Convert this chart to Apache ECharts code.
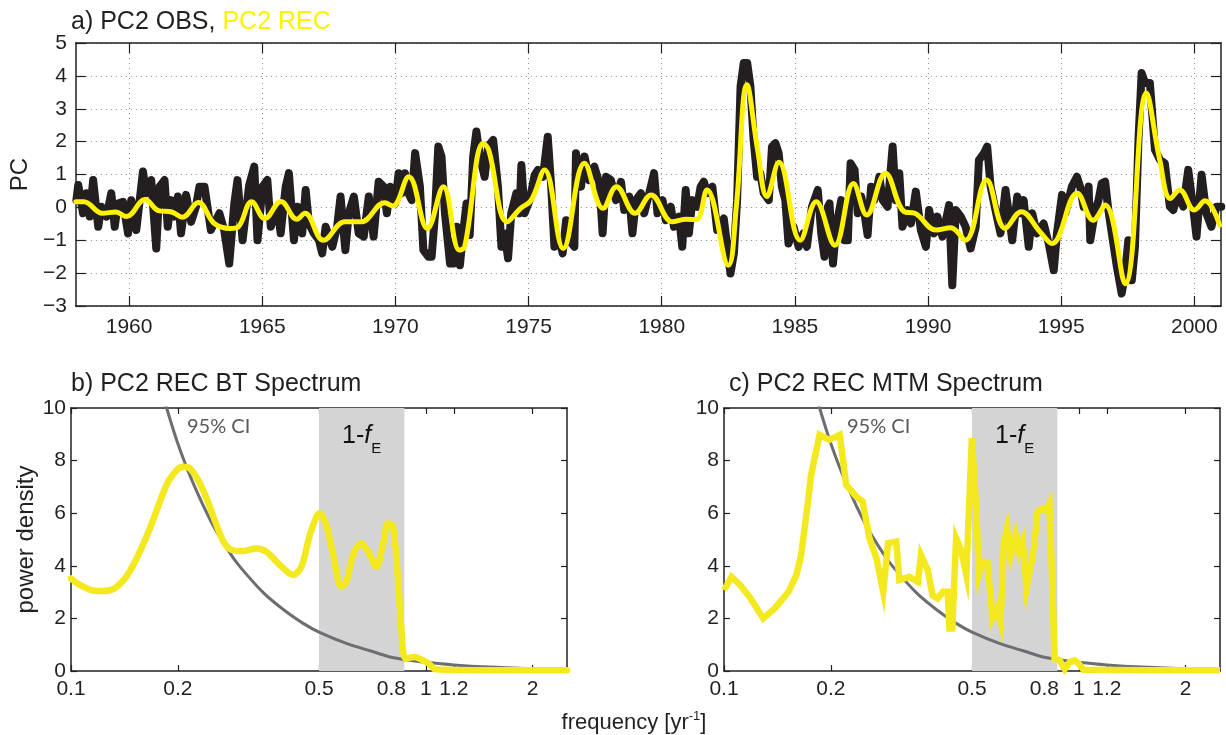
<!DOCTYPE html>
<html>
<head>
<meta charset="utf-8">
<script src="https://cdn.jsdelivr.net/npm/echarts@6/dist/echarts.min.js"></script>
<style>
html,body{margin:0;padding:0;background:#ffffff;}
#chart{width:1226px;height:735px;}
</style>
</head>
<body>
<div id="chart"></div>
<script>
// ---------------- DATA ----------------
const obsYears = [1958.02,1958.09,1958.27,1958.40,1958.52,1958.65,1958.84,1958.96,1959.15,1959.33,1959.46,1959.58,1959.77,1959.96,1960.08,1960.27,1960.52,1960.64,1960.83,1961.02,1961.14,1961.33,1961.45,1961.58,1961.70,1961.83,1961.95,1962.14,1962.33,1962.51,1962.64,1962.83,1963.07,1963.39,1963.57,1963.76,1963.95,1964.07,1964.26,1964.51,1964.70,1964.82,1965.01,1965.19,1965.32,1965.57,1965.69,1965.88,1966.00,1966.19,1966.32,1966.50,1966.63,1966.75,1966.94,1967.13,1967.25,1967.38,1967.63,1967.81,1967.94,1968.12,1968.25,1968.44,1968.62,1968.81,1969.00,1969.18,1969.37,1969.56,1969.68,1969.81,1969.99,1970.12,1970.24,1970.36,1970.49,1970.61,1970.74,1970.92,1971.05,1971.24,1971.36,1971.48,1971.61,1971.73,1971.86,1972.05,1972.17,1972.30,1972.42,1972.54,1972.67,1972.79,1972.92,1973.04,1973.17,1973.35,1973.48,1973.67,1973.85,1973.98,1974.10,1974.23,1974.35,1974.54,1974.66,1974.73,1974.85,1975.04,1975.23,1975.35,1975.54,1975.72,1975.85,1975.97,1976.16,1976.28,1976.41,1976.53,1976.72,1976.78,1976.97,1977.10,1977.28,1977.47,1977.66,1977.78,1977.91,1978.09,1978.28,1978.47,1978.59,1978.78,1978.90,1979.03,1979.22,1979.34,1979.53,1979.71,1979.84,1980.03,1980.15,1980.34,1980.46,1980.65,1980.77,1980.90,1981.02,1981.15,1981.33,1981.46,1981.58,1981.71,1981.90,1982.08,1982.33,1982.46,1982.58,1982.71,1982.83,1982.96,1983.08,1983.21,1983.33,1983.45,1983.58,1983.70,1983.83,1984.02,1984.14,1984.27,1984.39,1984.51,1984.64,1984.76,1984.95,1985.14,1985.32,1985.45,1985.64,1985.86,1985.99,1986.11,1986.24,1986.30,1986.43,1986.55,1986.74,1986.86,1986.99,1987.09,1987.24,1987.36,1987.49,1987.61,1987.73,1987.86,1987.98,1988.17,1988.30,1988.48,1988.67,1988.79,1988.92,1989.04,1989.23,1989.36,1989.54,1989.73,1989.92,1990.04,1990.23,1990.35,1990.54,1990.79,1990.91,1991.04,1991.23,1991.41,1991.60,1991.79,1991.91,1992.10,1992.22,1992.35,1992.53,1992.72,1992.91,1993.03,1993.16,1993.35,1993.47,1993.59,1993.78,1993.91,1994.09,1994.34,1994.53,1994.72,1994.84,1995.03,1995.15,1995.40,1995.59,1995.71,1995.84,1996.03,1996.09,1996.28,1996.40,1996.52,1996.65,1996.77,1996.90,1997.09,1997.27,1997.40,1997.52,1997.65,1997.77,1997.90,1998.02,1998.15,1998.33,1998.52,1998.71,1998.89,1999.08,1999.21,1999.39,1999.58,1999.77,1999.95,2000.08,2000.27,2000.45,2000.64,2000.83,2001.01];
const obsValues = [0.22,0.68,-0.18,0.43,-0.28,0.83,-0.59,0.02,-0.28,0.43,-0.59,0.12,0.17,-0.79,0.22,-0.69,1.09,0.43,0.83,-1.25,0.63,0.83,-0.59,0.22,-0.28,0.33,-0.79,0.38,-0.44,0.02,0.63,0.63,-0.69,-0.18,-0.69,-1.71,0.12,0.83,-1.00,0.68,1.24,-1.00,0.63,0.83,-0.59,0.02,-0.79,0.63,1.04,-1.00,0.02,-0.79,0.53,-0.49,-0.79,-1.00,-1.40,-0.59,-1.20,-0.59,0.33,-1.30,-0.18,0.33,-0.79,-0.89,0.33,-0.89,0.78,0.63,-0.18,0.63,0.12,1.04,0.43,1.04,0.43,0.22,1.65,0.63,-1.30,-1.50,-1.50,-0.28,1.85,1.55,-0.18,-1.71,-1.71,-0.59,-1.76,-0.79,0.12,-0.84,1.55,2.31,1.55,0.93,1.85,2.05,0.63,-1.20,-0.79,-1.55,-0.18,0.43,-0.18,1.29,-0.18,0.22,0.99,1.14,0.93,2.15,0.63,-1.20,-1.00,-1.40,-0.39,-1.00,-1.20,1.65,0.63,1.55,0.83,1.24,0.73,-0.79,0.93,0.83,0.22,0.78,-0.08,0.33,-0.79,0.22,0.43,-0.18,0.43,1.04,-0.18,0.22,-0.39,0.02,-0.59,-0.28,-1.20,0.53,-0.79,0.22,0.02,0.63,0.78,0.43,0.63,-0.69,-0.34,-1.20,-2.01,-1.40,0.22,3.68,4.39,4.39,3.68,2.05,0.93,1.04,0.43,0.22,1.85,1.95,1.65,0.63,0.22,-1.10,-0.59,-1.20,-0.79,-1.20,0.02,0.53,-0.79,-1.50,0.02,0.12,-1.71,-0.59,0.22,-1.00,-1.00,1.34,1.14,-0.18,0.33,-0.18,-0.84,0.63,0.22,0.93,0.22,0.02,1.85,0.22,1.04,-0.59,-0.08,-0.49,0.48,-0.69,-1.20,-0.08,-0.79,-0.28,-0.89,0.07,-2.37,-0.08,-0.28,-0.59,-1.25,-0.59,1.44,1.65,1.85,0.63,-0.08,-0.79,0.53,-0.18,-1.00,0.33,-0.18,0.22,-1.20,-0.18,-0.79,-0.49,-1.10,-1.91,-0.79,0.38,-0.18,0.63,0.93,0.63,0.02,0.63,-1.00,-0.08,0.22,0.73,0.78,-0.08,-0.79,-1.81,-2.62,-2.01,-1.00,-2.22,-1.20,2.05,4.09,3.78,3.78,1.75,1.44,1.34,0.02,-0.08,0.43,0.02,1.14,0.02,-0.89,0.99,-0.18,-0.59,0.02,0.02];

const recYears = [1958.0,1958.3,1959.0,1959.5,1959.9,1960.6,1961.1,1961.6,1962.0,1962.6,1963.2,1963.8,1964.1,1964.6,1965.1,1965.7,1966.3,1966.6,1967.3,1968.1,1968.7,1969.6,1969.9,1970.5,1971.2,1971.8,1972.4,1972.6,1973.3,1973.5,1974.2,1974.7,1975.1,1975.6,1976.3,1977.1,1977.8,1978.3,1979.0,1979.6,1980.4,1980.9,1981.3,1981.7,1982.5,1982.8,1983.2,1983.6,1983.95,1984.4,1985.2,1985.8,1986.5,1987.2,1987.7,1988.4,1989.1,1989.5,1990.3,1990.85,1991.4,1992.2,1992.9,1993.5,1994.2,1994.65,1995.6,1996.2,1996.65,1997.4,1998.2,1998.7,1999.1,1999.45,2000.0,2000.4,2000.95];
const recValues = [0.17,0.17,-0.18,-0.14,-0.28,0.24,-0.10,-0.14,-0.30,0.15,-0.49,-0.64,-0.59,0.17,-0.34,0.18,-0.36,-0.18,-1.00,-0.44,-0.44,0.14,0.04,0.93,-0.64,0.63,-1.30,-1.20,1.95,1.75,-0.44,-0.03,0.22,1.14,-1.25,1.34,-0.03,0.63,-0.18,0.38,-0.44,-0.36,-0.37,0.53,-1.76,0.02,3.73,1.75,0.33,1.37,-1.00,0.17,-1.15,0.73,-0.23,1.04,-0.13,-0.18,-0.69,-0.62,-1.00,0.83,-0.64,-0.13,-0.74,-1.10,0.43,-0.39,0.07,-2.32,3.48,1.44,0.27,0.53,-0.08,0.20,-0.54];

const btFreq  = [0.100,0.106,0.118,0.129,0.142,0.153,0.167,0.186,0.199,0.207,0.216,0.228,0.241,0.255,0.269,0.284,0.306,0.333,0.355,0.388,0.423,0.446,0.471,0.492,0.502,0.524,0.548,0.578,0.597,0.624,0.658,0.688,0.726,0.757,0.782,0.808,0.836,0.853,0.877,0.930,0.980,1.020,1.060,1.200,1.600,2.000,2.500];
const btPower = [3.52,3.27,3.04,3.07,3.52,4.28,5.43,7.08,7.65,7.77,7.71,7.27,6.57,5.68,4.92,4.60,4.56,4.66,4.54,4.03,3.65,3.96,5.17,5.87,6.00,5.55,4.41,3.20,3.39,4.41,4.86,4.54,3.96,4.79,5.62,5.49,3.39,1.62,0.47,0.53,0.41,0.28,0.07,0.04,0.03,0.03,0.03];

const mtmFreq  = [0.100,0.105,0.111,0.118,0.129,0.139,0.152,0.160,0.165,0.172,0.176,0.186,0.198,0.212,0.221,0.236,0.246,0.257,0.269,0.281,0.290,0.306,0.312,0.333,0.352,0.359,0.375,0.387,0.400,0.414,0.427,0.432,0.440,0.451,0.466,0.482,0.4995,0.514,0.523,0.536,0.553,0.571,0.589,0.602,0.615,0.628,0.643,0.664,0.679,0.695,0.712,0.733,0.749,0.765,0.790,0.808,0.826,0.845,0.854,0.883,0.913,0.943,0.974,1.000,1.030,1.500,2.500];
const mtmPower = [3.08,3.58,3.27,2.82,2.00,2.38,3.01,3.65,4.41,6.31,7.46,8.98,8.79,8.98,7.08,6.63,6.44,5.05,4.28,3.01,4.86,4.92,3.46,3.58,3.39,4.41,3.84,2.88,2.76,3.01,3.01,1.62,1.62,5.05,4.60,3.65,8.85,6.18,3.65,4.16,4.10,2.00,2.38,1.88,4.92,5.43,4.41,5.18,4.54,4.92,3.14,4.03,4.79,6.06,6.18,6.10,6.36,2.76,0.47,0.41,0.07,0.34,0.40,0.28,0.05,0.03,0.03];

const ciFreq  = [0.180,0.186,0.200,0.220,0.250,0.280,0.300,0.350,0.400,0.450,0.500,0.600,0.700,0.800,0.900,1.000,1.200,1.500,2.000,2.500];
const ciPower = [10.7,10.0,8.65,7.2,5.6,4.5,3.95,2.95,2.3,1.82,1.48,1.04,0.76,0.52,0.41,0.33,0.23,0.15,0.09,0.06];

const yearTicks = [1960,1965,1970,1975,1980,1985,1990,1995,2000];
const freqTicks = [0.1,0.2,0.5,0.8,1,1.2,2];
const freqRange = [0.1, 2.5];
const bandRange = [0.5, 0.87];

// ---------------- STYLE ----------------
const FONT = 'Liberation Sans, Arial, Helvetica, sans-serif';
const INK = '#231f20';
const Y_TOP = '#fff200';
const Y_SPEC = '#f4e81e';
const log = Math.log10;

const minus = v => (v < 0 ? '\u2212' + Math.abs(v) : String(v));
const plain = v => String(v);
const freqFmt = v => String(parseFloat(Math.pow(10, v).toPrecision(2)));

function xAx(gi, pos, main, extra) {
  return Object.assign({
    type: 'value', gridIndex: gi, position: pos,
    axisLine: {show: true, onZero: false, lineStyle: {color: INK, width: 1.5}},
    axisTick: {show: true, inside: true, length: gi === 0 ? 10 : 6, lineStyle: {color: INK, width: 1.2}},
    axisLabel: {show: main, color: INK, fontFamily: FONT, fontSize: 21, margin: 9},
    splitLine: {show: false}
  }, extra);
}
function yAx(gi, pos, main, extra) {
  return Object.assign({
    type: 'value', gridIndex: gi, position: pos,
    axisLine: {show: true, onZero: false, lineStyle: {color: INK, width: 1.5}},
    axisTick: {show: true, inside: true, length: gi === 0 ? 10 : 6, lineStyle: {color: INK, width: 1.2}},
    axisLabel: {show: main, color: INK, fontFamily: FONT, fontSize: 21, margin: gi === 0 ? 9 : 5},
    splitLine: {show: false}
  }, extra);
}

const dotted = {show: true, lineStyle: {color: '#8a8a8a', width: 1, type: [1, 4]}};
const yearAxisExtra = (lbl) => ({
  min: 1958, max: 2001,
  axisLabel: {show: lbl, color: INK, fontFamily: FONT, fontSize: 21, margin: 11, customValues: yearTicks, formatter: plain},
  axisTick: {show: true, inside: true, length: 10, customValues: yearTicks, lineStyle: {color: INK, width: 1.2}},
  splitLine: lbl ? dotted : {show: false}
});
const freqAxisExtra = (lbl) => ({
  min: log(freqRange[0]), max: log(freqRange[1]),
  axisLabel: {show: lbl, color: INK, fontFamily: FONT, fontSize: 21, margin: 8,
              customValues: freqTicks.map(log), formatter: freqFmt},
  axisTick: {show: true, inside: true, length: 6, customValues: freqTicks.map(log), lineStyle: {color: INK, width: 1.2}}
});
const pcAxisExtra = (lbl) => ({
  min: -3, max: 5, interval: 1,
  axisLabel: {show: lbl, color: INK, fontFamily: FONT, fontSize: 21, margin: 9, formatter: minus},
  splitLine: lbl ? dotted : {show: false}
});
const powAxisExtra = {min: 0, max: 10, interval: 2};

const pairs = (xs, ys, fx) => xs.map((x, i) => [fx ? fx(x) : x, ys[i]]);

const bandArea = {
  silent: true,
  itemStyle: {color: '#d4d4d4', opacity: 1},
  label: {
    show: true, position: 'insideTop', distance: 8,
    formatter: '{a|1-}{i|f}{s|E}',
    rich: {
      a: {fontFamily: FONT, fontSize: 25, color: '#111', lineHeight: 40},
      i: {fontFamily: FONT, fontSize: 25, fontStyle: 'italic', color: '#111', lineHeight: 40},
      s: {fontFamily: FONT, fontSize: 15, color: '#111', lineHeight: 16, verticalAlign: 'bottom'}
    }
  },
  data: [[{xAxis: log(bandRange[0])}, {xAxis: log(bandRange[1])}]]
};

const option = {
  backgroundColor: '#ffffff',
  animation: false,
  title: [
    {text: '{k|a) PC2 OBS, }{y|PC2 REC}', left: 71, top: 10, padding: 0,
     textStyle: {fontWeight: 'normal', rich: {
       k: {fontFamily: FONT, fontSize: 25, fontWeight: 'normal', color: INK},
       y: {fontFamily: FONT, fontSize: 25, fontWeight: 'normal', color: Y_TOP}}}},
    {text: 'b) PC2 REC BT Spectrum', left: 71, top: 372, padding: 0,
     textStyle: {fontFamily: FONT, fontSize: 25, fontWeight: 'normal', color: INK}},
    {text: 'c) PC2 REC MTM Spectrum', left: 729, top: 372, padding: 0,
     textStyle: {fontFamily: FONT, fontSize: 25, fontWeight: 'normal', color: INK}}
  ],
  graphic: [
    {type: 'text', x: 634, y: 723, style: {text: '{a|frequency [yr}{s|-1}{a|]}', align: 'center', verticalAlign: 'middle',
      rich: {a: {fontFamily: FONT, fontSize: 22, fill: INK, lineHeight: 26}, s: {fontFamily: FONT, fontSize: 13, fill: INK, verticalAlign: 'top', lineHeight: 14}}}},
    {type: 'text', x: 187, y: 427, style: {text: '95% CI', fontFamily: 'Lato, sans-serif', fontSize: 20, fill: '#58595b', verticalAlign: 'middle'}},
    {type: 'text', x: 847, y: 427, style: {text: '95% CI', fontFamily: 'Lato, sans-serif', fontSize: 20, fill: '#58595b', verticalAlign: 'middle'}}
  ],
  grid: [
    {left: 71, top: 43, width: 1150, height: 263, containLabel: false},
    {left: 71, top: 408, width: 496, height: 263, containLabel: false},
    {left: 724, top: 408, width: 496, height: 263, containLabel: false}
  ],
  xAxis: [
    xAx(0, 'bottom', true, yearAxisExtra(true)),
    xAx(0, 'top', false, yearAxisExtra(false)),
    xAx(1, 'bottom', true, freqAxisExtra(true)),
    xAx(1, 'top', false, freqAxisExtra(false)),
    xAx(2, 'bottom', true, freqAxisExtra(true)),
    xAx(2, 'top', false, freqAxisExtra(false))
  ],
  yAxis: [
    yAx(0, 'left', true, Object.assign(pcAxisExtra(true), {name: 'PC', nameLocation: 'middle', nameGap: 32,
        nameTextStyle: {fontFamily: FONT, fontSize: 24, color: INK}})),
    yAx(0, 'right', false, pcAxisExtra(false)),
    yAx(1, 'left', true, Object.assign({}, powAxisExtra, {name: 'power density', nameLocation: 'middle', nameGap: 33,
        nameTextStyle: {fontFamily: FONT, fontSize: 24, color: INK}})),
    yAx(1, 'right', false, powAxisExtra),
    yAx(2, 'left', true, powAxisExtra),
    yAx(2, 'right', false, powAxisExtra)
  ],
  series: [
    {name: 'PC2 OBS', type: 'line', xAxisIndex: 0, yAxisIndex: 0, showSymbol: false, z: 3,
     data: pairs(obsYears, obsValues),
     lineStyle: {color: INK, width: 8, join: 'round', cap: 'round'}},
    {name: 'PC2 REC', type: 'line', xAxisIndex: 0, yAxisIndex: 0, showSymbol: false, smooth: 0.4, z: 4,
     data: pairs(recYears, recValues),
     lineStyle: {color: Y_TOP, width: 5, join: 'round', cap: 'round'}},
    {name: '95% CI BT', type: 'line', xAxisIndex: 2, yAxisIndex: 2, showSymbol: false, smooth: 0.3, z: 3,
     data: pairs(ciFreq, ciPower, log),
     lineStyle: {color: '#6d6e71', width: 3},
     markArea: bandArea},
    {name: 'BT', type: 'line', xAxisIndex: 2, yAxisIndex: 2, showSymbol: false, smooth: 0.3, z: 4,
     data: pairs(btFreq, btPower, log),
     lineStyle: {color: Y_SPEC, width: 6.5, join: 'round', cap: 'round'}},
    {name: '95% CI MTM', type: 'line', xAxisIndex: 4, yAxisIndex: 4, showSymbol: false, smooth: 0.3, z: 3,
     data: pairs(ciFreq, ciPower, log),
     lineStyle: {color: '#6d6e71', width: 3},
     markArea: bandArea},
    {name: 'MTM', type: 'line', xAxisIndex: 4, yAxisIndex: 4, showSymbol: false, z: 4,
     data: pairs(mtmFreq, mtmPower, log),
     lineStyle: {color: Y_SPEC, width: 6.5, join: 'miter', cap: 'butt'}}
  ]
};

const chart = echarts.init(document.getElementById('chart'), null, {renderer: 'canvas'});
chart.setOption(option);
</script>
</body>
</html>
